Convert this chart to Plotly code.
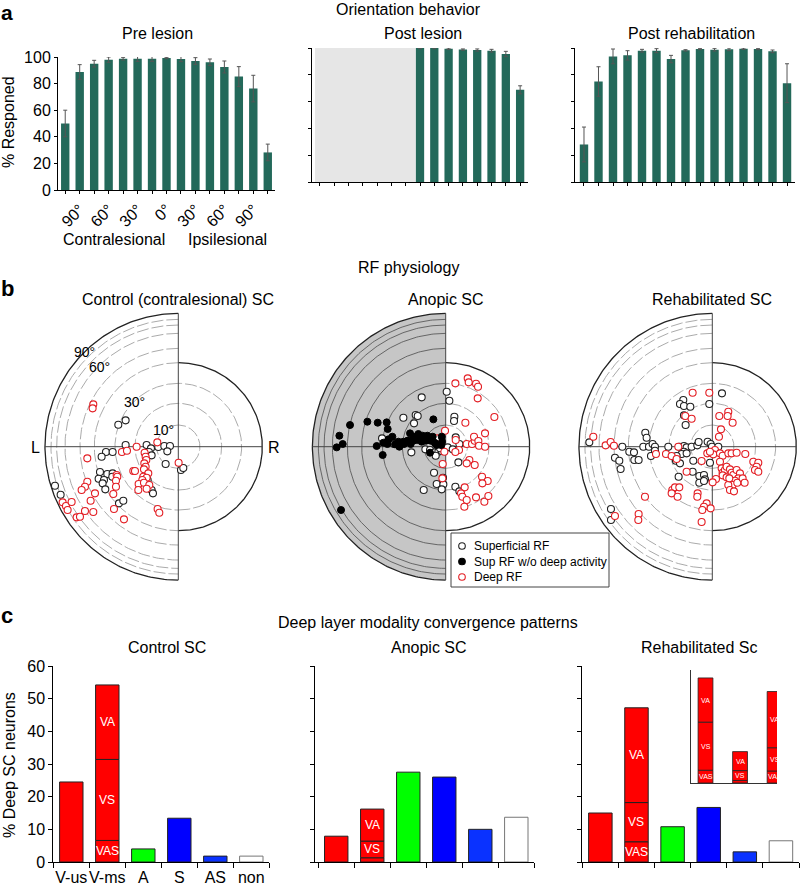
import numpy as np
import plotly.graph_objects as go

W, H = 800, 886
FONT = "Liberation Sans, Arial, sans-serif"

# ---------------- Panel a : orientation behaviour ----------------
POS_LABELS = ["", "90°", "", "60°", "", "30°", "", "0°", "", "30°", "", "60°", "", "90°", ""]
PRE_VALUES = [50, 88.75, 95, 98, 98.75, 98.75, 98.75, 99.25, 98.5, 97, 96, 92.5, 85.25, 76.25, 28.25]
PRE_ERR = [10, 5.5, 2.5, 2, 1, 2, 2, 0.5, 2, 2.5, 2.5, 4.5, 7.5, 10, 6.25]
POST_POSITIONS = [7, 8, 9, 10, 11, 12, 13, 14]
POST_VALUES = [100, 100, 99.5, 98.8, 98.5, 98, 95.5, 68.8]
POST_ERR = [0.5, 0.5, 0.5, 0.5, 0.8, 1, 2, 3]
REHAB_VALUES = [28, 75, 93.75, 94.5, 98, 98, 91.75, 98.25, 99.25, 98.75, 99, 99.5, 99.25, 97.5, 73.75]
REHAB_ERR = [13, 11, 5.5, 3.5, 1, 1.5, 2.75, 0.5, 0.5, 1, 1, 0.5, 0.5, 1, 14.5]

# ---------------- Panel b : RF physiology (x, y offsets in plot units; 90 deg ring = 400) ----------------
RING_DEG = [10, 20, 30, 40, 50, 60, 70, 80, 90]
RING_R = [65, 130, 190, 252, 295, 340, 365, 382, 400]
RING_LABELS = [("10°", -45, 50), ("30°", -130, 135), ("60°", -235, 240), ("90°", -280, 285)]

CTRL_SUP = [(-180, 66), (-158, 79), (-158, 5), (-95, 5), (-82, -5), (-60, -1), (-42, 2), (-25, 2), (-33, -14),
            (-88, -16), (-80, -26), (-217, -16), (-197, -16), (-230, -30), (-235, -76), (-213, -82), (-197, -80),
            (-239, -96), (-223, -100), (-227, -110), (-219, -128), (-198, -90), (-92, -100), (-80, -130),
            (-76, -140), (-178, -170), (-165, -162), (-370, -117), (-353, -144), (-38, -52), (8, -70), (15, -64)]
CTRL_DEEP = [(-255, 127), (-257, 115), (-125, 0), (-63, 13), (-169, -16), (-154, -12), (-101, -18), (-98, -30),
             (-96, -40), (-102, -50), (-98, -60), (-135, -73), (-130, -73), (-103, -68), (-90, -80), (-105, -90),
             (-95, -93), (-108, -100), (-119, -112), (-103, -108), (-87, -115), (-120, -130), (-95, -126),
             (-185, -85), (-183, -90), (-187, -102), (-273, -35), (-273, -105), (-280, -120), (-290, -130),
             (-250, -140), (-263, -162), (-195, -142), (-187, -120), (-193, -187), (-163, -218), (-62, -187),
             (-57, -198), (-347, -167), (-337, -178), (-320, -166), (-332, -190), (-280, -193), (-255, -196),
             (-305, -212), (-295, -210), (1, -48)]

ANOP_NODEEP = [(-319, 33), (-309, 8), (-327, -2), (-287, 65), (-235, 75), (-204, 72), (-177, 73), (-174, 53),
               (-187, 12), (-207, 2), (-189, -25), (-172, 22), (-160, 30), (-175, 8), (-142, 15), (-139, 0),
               (-125, 8), (-115, 18), (-107, 40), (-95, 30), (-82, 38), (-69, 33), (-55, 33), (-39, 30),
               (-109, 18), (-97, 18), (-85, 20), (-72, 15), (-59, 18), (-45, 18), (-33, 12), (-27, 5), (-12, 30),
               (-11, 15), (-14, 5), (-37, 82), (-105, 8), (-47, -18), (-314, -190), (-127, 15), (-152, 7)]
ANOP_SUP = [(-72, 148), (-127, 87), (-90, 95), (-84, 92), (-95, 70), (-191, 25), (-155, 8), (-103, -17),
            (-61, -8), (-47, -10), (-33, -17), (-22, -15), (-12, -13), (-30, -27), (3, 165), (11, 138), (26, 90),
            (25, 77), (30, 28), (41, 8), (6, -2), (21, -8), (38, -47), (-35, -78), (-8, -93), (-27, -112),
            (-7, -113), (-12, -128), (-66, -130), (29, -120), (41, -134), (-17, -5)]
ANOP_DEEP = [(29, 190), (66, 205), (69, 193), (91, 189), (97, 180), (96, 145), (146, 89), (59, 72), (-2, 48),
             (-27, 25), (30, 20), (63, 8), (79, 8), (87, 18), (85, 30), (98, 17), (100, 3), (118, 0), (118, 40),
             (40, -10), (29, -16), (-4, -15), (-9, -52), (71, -40), (63, -50), (87, -55), (109, -90),
             (126, -103), (110, -110), (-10, -95), (57, -122), (46, -140), (50, -150), (63, -160), (56, -180),
             (91, -152), (116, -165), (128, -148)]

REHAB_SUP = [(29, 160), (-87, 140), (-97, 128), (-85, 122), (-66, 120), (-9, 128), (-85, 94), (-80, 65),
             (-201, 42), (-197, 27), (-270, 0), (-249, -15), (-235, -17), (-234, -40), (-221, -40), (-292, -33),
             (-279, -42), (-275, -67), (-207, 0), (-190, 0), (-179, 8), (-172, 0), (-172, -12), (-184, -28),
             (-132, 0), (-99, 0), (-85, 2), (-77, -2), (-62, 0), (-45, 4), (-41, 14), (-14, 15), (-5, 8), (-1, 0),
             (-85, -15), (-92, -22), (-77, -20), (-107, -28), (-109, -42), (-97, -50), (-57, -42), (-7, -48),
             (-59, -75), (-39, -88), (-25, -85), (-22, -98), (-39, -108), (-25, -103), (-101, -90), (-304, -187),
             (-304, -220), (-369, 13), (18, 0)]
REHAB_DEEP = [(-357, 30), (-320, 4), (-305, 14), (-295, 3), (-169, -22), (-139, -22), (-122, -28), (-107, -37),
              (-102, 0), (-77, -75), (-81, 92), (-62, 84), (-59, 162), (-9, 162), (48, 105), (46, 92), (21, 92),
              (61, 72), (26, 52), (20, 30), (-32, -43), (-15, -20), (-2, -18), (8, -10), (3, -23), (-7, -15),
              (23, -20), (31, -27), (48, -20), (58, -20), (73, -18), (99, -22), (23, -45), (28, -65), (31, -78),
              (38, -70), (43, -60), (53, -68), (58, -78), (63, -85), (73, -70), (83, -80), (78, -95), (68, -102),
              (61, -115), (48, -115), (53, -130), (65, -134), (75, -108), (91, -95), (97, -108), (31, -86),
              (43, -92), (51, -95), (123, -45), (138, -48), (133, -60), (128, -70), (138, -75), (11, -97),
              (1, -107), (-120, -130), (-112, -122), (-99, -122), (-122, -140), (-104, -150), (-44, -140),
              (-45, -150), (-17, -170), (-25, -180), (-30, -190), (-5, -185), (-32, -226), (-202, -150),
              (-221, -202), (-222, -220), (-292, -208)]

LEGEND_LABELS = ["Superficial RF", "Sup RF w/o deep activity", "Deep RF"]

# ---------------- Panel c : deep layer modality convergence ----------------
C_CATS = ["V-us", "V-ms", "A", "S", "AS", "non"]
C_COLORS = ["#ff0000", "#ff0000", "#00ff00", "#0000ff", "#0a32ff", "#ffffff"]
CONTROL_VALS = [24.5, 54.2, 4.0, 13.4, 1.8, 1.8]
ANOPIC_VALS = [7.9, 16.2, 27.5, 26.0, 10.0, 13.7]
REHAB_C_VALS = [15.0, 47.2, 10.8, 16.7, 3.1, 6.5]
VMS_PARTS = ["VAS", "VS", "VA"]
CONTROL_VMS = [6.6, 24.8, 22.8]
ANOPIC_VMS = [1.3, 5.1, 9.8]
REHAB_VMS = [6.2, 12.0, 29.0]

RED = "#e31e24"
BAR_GREEN = "#23695a"

# ---------------- helpers ----------------
def dx(a, b):
    return [a / W, b / W]

def dy(top, bottom):
    return [1 - bottom / H, 1 - top / H]

annotations = []
shapes = []

def ann(text, x, y, size=16, **kw):
    d = dict(text=text, x=x / W, y=1 - y / H, xref="paper", yref="paper", showarrow=False,
             font=dict(family=FONT, size=size, color="black"), xanchor="center", yanchor="middle")
    d.update(kw)
    annotations.append(d)

fig = go.Figure()

def hidden(**kw):
    d = dict(showgrid=False, zeroline=False, showline=False, ticks="", showticklabels=False, fixedrange=True)
    d.update(kw)
    return d

layout_axes = {}

# ---------------- Panel a ----------------
a_specs = [
    ("x", "y", "xaxis", "yaxis", dx(58, 275), dy(57, 190), [-0.5, 14.5], True),
    ("x2", "y2", "xaxis2", "yaxis2", dx(312, 528), dy(48, 182), [-0.55, 14.55], False),
    ("x3", "y3", "xaxis3", "yaxis3", dx(575, 795), dy(48, 182), [-0.62, 14.55], False),
]
for xr, yr, xk, yk, xd, yd, rng, labels in a_specs:
    layout_axes[xk] = dict(domain=xd, range=rng, anchor=yr, showgrid=False, zeroline=False, showline=True,
                           linecolor="black", linewidth=1, ticks="outside", ticklen=3, tickcolor="black",
                           tickvals=list(range(15)), ticktext=POS_LABELS, showticklabels=labels,
                           tickangle=-45, tickfont=dict(family=FONT, size=16, color="black"), fixedrange=True)
    layout_axes[yk] = dict(domain=yd, range=[0, 100], anchor=xr, showgrid=False, zeroline=False, showline=True,
                           linecolor="black", linewidth=1, ticks="outside", ticklen=3, tickcolor="black",
                           tickvals=[0, 20, 40, 60, 80, 100], showticklabels=labels,
                           tickfont=dict(family=FONT, size=16, color="black"), fixedrange=True)

err_style = dict(type="data", color="#555555", thickness=1, width=2)
fig.add_trace(go.Bar(x=list(range(15)), y=PRE_VALUES, width=0.58, marker=dict(color=BAR_GREEN, line=dict(width=0)),
                     error_y=dict(array=PRE_ERR, **err_style), xaxis="x", yaxis="y", showlegend=False))
fig.add_trace(go.Bar(x=POST_POSITIONS, y=POST_VALUES, width=0.58, marker=dict(color=BAR_GREEN, line=dict(width=0)),
                     error_y=dict(array=POST_ERR, **err_style), xaxis="x2", yaxis="y2", showlegend=False))
fig.add_trace(go.Bar(x=list(range(15)), y=REHAB_VALUES, width=0.58, marker=dict(color=BAR_GREEN, line=dict(width=0)),
                     error_y=dict(array=REHAB_ERR, **err_style), xaxis="x3", yaxis="y3", showlegend=False))
shapes.append(dict(type="rect", xref="x2", yref="y2", x0=-0.34, x1=6.69, y0=0, y1=100,
                   fillcolor="#e6e6e6", line=dict(width=0), layer="below"))

ann("<b>a</b>", 7, 0, size=21, yanchor="top", borderpad=0)
ann("Orientation behavior", 408, 0, yanchor="top", borderpad=0)
ann("Pre lesion", 157, 33)
ann("Post lesion", 423, 33)
ann("Post rehabilitation", 691, 33)
ann("% Responed", 9, 122, textangle=-90)
ann("Contralesional", 114, 240)
ann("Ipsilesional", 228, 240)

# ---------------- Panel b ----------------
ann("RF physiology", 408, 268)
ann("<b>b</b>", 7, 289, size=22)
ann("Control (contralesional) SC", 178, 299)
ann("Anopic SC", 446, 299)
ann("Rehabilitated SC", 712, 299)
ann("L", 35, 447)
ann("R", 274, 447)

polar_specs = [
    ("x4", "y4", "xaxis4", "yaxis4", 178.3, False, True),
    ("x5", "y5", "xaxis5", "yaxis5", 445.7, True, False),
    ("x6", "y6", "xaxis6", "yaxis6", 712.3, False, False),
]
CY = 446.7
XMIN, XMAX, YMIN, YMAX = -420, 262, -420, 420
left_th = np.linspace(np.pi / 2, 3 * np.pi / 2, 181)
right_th = np.linspace(-np.pi / 2, np.pi / 2, 181)

for xr, yr, xk, yk, cx, shaded, ring_labels in polar_specs:
    layout_axes[xk] = hidden(domain=dx(cx + XMIN / 3, cx + XMAX / 3), range=[XMIN, XMAX], anchor=yr)
    layout_axes[yk] = hidden(domain=dy(CY - YMAX / 3, CY - YMIN / 3), range=[YMIN, YMAX], anchor=xr)
    outer = RING_R[-1]
    right_edge = RING_R[3]
    if shaded:
        fig.add_trace(go.Scatter(x=outer * np.cos(left_th), y=outer * np.sin(left_th), mode="lines",
                                 fill="toself", fillcolor="#c6c6c6", line=dict(width=0),
                                 xaxis=xr, yaxis=yr, showlegend=False, hoverinfo="skip"))
    left_col = "#5a5a5a" if shaded else "#a0a0a0"
    left_dash = "solid" if shaded else "12px,3px"
    for deg, r in zip(RING_DEG[:-1], RING_R[:-1]):
        fig.add_trace(go.Scatter(x=r * np.cos(left_th), y=r * np.sin(left_th), mode="lines",
                                 line=dict(color=left_col, width=0.9, dash=left_dash),
                                 xaxis=xr, yaxis=yr, showlegend=False, hoverinfo="skip"))
        if deg < RING_DEG[3]:
            fig.add_trace(go.Scatter(x=r * np.cos(right_th), y=r * np.sin(right_th), mode="lines",
                                     line=dict(color="#a0a0a0", width=0.9, dash="12px,3px"),
                                     xaxis=xr, yaxis=yr, showlegend=False, hoverinfo="skip"))
    fig.add_trace(go.Scatter(x=outer * np.cos(left_th), y=outer * np.sin(left_th), mode="lines",
                             line=dict(color="#222222", width=1.3),
                             xaxis=xr, yaxis=yr, showlegend=False, hoverinfo="skip"))
    fig.add_trace(go.Scatter(x=right_edge * np.cos(right_th), y=right_edge * np.sin(right_th), mode="lines",
                             line=dict(color="#222222", width=1.3),
                             xaxis=xr, yaxis=yr, showlegend=False, hoverinfo="skip"))
    fig.add_trace(go.Scatter(x=[-outer, right_edge], y=[0, 0], mode="lines", line=dict(color="#444444", width=1),
                             xaxis=xr, yaxis=yr, showlegend=False, hoverinfo="skip"))
    fig.add_trace(go.Scatter(x=[0, 0], y=[-outer, outer], mode="lines", line=dict(color="#444444", width=1),
                             xaxis=xr, yaxis=yr, showlegend=False, hoverinfo="skip"))
    if ring_labels:
        for txt, lx, ly in RING_LABELS:
            annotations.append(dict(text=txt, x=lx, y=ly, xref=xr, yref=yr, showarrow=False,
                                    font=dict(family=FONT, size=14, color="black")))

def add_points(pts, xr, yr, kind):
    xs = [p[0] for p in pts]
    ys = [p[1] for p in pts]
    if kind == "sup":
        marker = dict(symbol="circle", size=7, color="white", line=dict(color="#222222", width=1.1))
    elif kind == "nodeep":
        marker = dict(symbol="circle", size=7, color="black", line=dict(color="black", width=1))
    else:
        marker = dict(symbol="circle", size=7, color="white", line=dict(color=RED, width=1.1))
    fig.add_trace(go.Scatter(x=xs, y=ys, mode="markers", marker=marker, xaxis=xr, yaxis=yr,
                             showlegend=False, hoverinfo="skip"))

add_points(CTRL_SUP, "x4", "y4", "sup")
add_points(CTRL_DEEP, "x4", "y4", "deep")
add_points(ANOP_SUP, "x5", "y5", "sup")
add_points(ANOP_DEEP, "x5", "y5", "deep")
add_points(ANOP_NODEEP, "x5", "y5", "nodeep")
add_points(REHAB_SUP, "x6", "y6", "sup")
add_points(REHAB_DEEP, "x6", "y6", "deep")

# manual legend box
LG_X0, LG_X1, LG_Y0, LG_Y1 = 451, 609, 533, 587
shapes.append(dict(type="rect", xref="paper", yref="paper", x0=LG_X0 / W, x1=LG_X1 / W,
                   y0=1 - LG_Y1 / H, y1=1 - LG_Y0 / H, line=dict(color="#444444", width=1), fillcolor="white"))
leg_styles = [("white", "#222222"), ("black", "black"), ("white", RED)]
for i, (lab, (fillc, linec)) in enumerate(zip(LEGEND_LABELS, leg_styles)):
    cyy = 546 + i * 15.5
    r = 3.3
    shapes.append(dict(type="circle", xref="paper", yref="paper", x0=(462 - r) / W, x1=(462 + r) / W,
                       y0=1 - (cyy + r) / H, y1=1 - (cyy - r) / H, fillcolor=fillc, line=dict(color=linec, width=1.1)))
    ann(lab, 472, cyy, size=12, xanchor="left")

# ---------------- Panel c ----------------
ann("<b>c</b>", 7, 615, size=22)
ann("Deep layer modality convergence patterns", 428, 622)
ann("Control SC", 167, 647)
ann("Anopic SC", 429, 647)
ann("Rehabilitated Sc", 699, 647)
ann("% Deep SC neurons", 9, 765, textangle=-90)

c_specs = [
    ("x7", "y7", "xaxis7", "yaxis7", dx(53.3, 269.3), [-0.5, 5.5], True, CONTROL_VALS, CONTROL_VMS),
    ("x8", "y8", "xaxis8", "yaxis8", dx(315, 534.3), [-0.59, 5.5], False, ANOPIC_VALS, ANOPIC_VMS),
    ("x9", "y9", "xaxis9", "yaxis9", dx(582.3, 799), [-0.5, 5.5], False, REHAB_C_VALS, REHAB_VMS),
]
bounds = [i - 0.5 for i in range(7)]
for xr, yr, xk, yk, xd, rng, labels, vals, vms in c_specs:
    layout_axes[xk] = dict(domain=xd, range=rng, anchor=yr, showgrid=False, zeroline=False, showline=True,
                           linecolor="black", linewidth=1, tickvals=list(range(6)), ticktext=C_CATS,
                           ticks="outside", ticklen=1, tickcolor="rgba(0,0,0,0)", showticklabels=labels,
                           tickangle=0, tickfont=dict(family=FONT, size=16, color="black"), fixedrange=True,
                           minor=dict(tickmode="array", tickvals=bounds, ticks="outside", ticklen=5,
                                      tickcolor="black", tickwidth=1, showgrid=False))
    layout_axes[yk] = dict(domain=dy(666, 862), range=[0, 60], anchor=xr, showgrid=False, zeroline=False,
                           showline=True, linecolor="black", linewidth=1, ticks="outside", ticklen=4,
                           tickcolor="black", tickvals=list(range(0, 61, 10)), showticklabels=labels,
                           tickfont=dict(family=FONT, size=16, color="black"), fixedrange=True)
    single_idx = [0, 2, 3, 4, 5]
    fig.add_trace(go.Bar(x=single_idx, y=[vals[i] for i in single_idx], width=0.65,
                         marker=dict(color=[C_COLORS[i] for i in single_idx],
                                     line=dict(color=["#222222"] * 4 + ["#777777"], width=1)),
                         xaxis=xr, yaxis=yr, showlegend=False))
    base = 0.0
    for part, v in zip(VMS_PARTS, vms):
        fig.add_trace(go.Bar(x=[1], y=[v], base=[base], width=0.65,
                             marker=dict(color=C_COLORS[1], line=dict(color="#222222", width=1)),
                             xaxis=xr, yaxis=yr, showlegend=False))
        if v > 3:
            annotations.append(dict(text=part, x=1, y=base + v / 2, xref=xr, yref=yr, showarrow=False,
                                    font=dict(family=FONT, size=12, color="white")))
        base += v

# inset of V-ms composition across conditions
layout_axes["xaxis10"] = dict(domain=dx(691, 777), range=[-0.42, 2.07], anchor="y10", showgrid=False,
                              zeroline=False, showline=True, linecolor="#333333", linewidth=1, ticks="",
                              showticklabels=False, fixedrange=True)
layout_axes["yaxis10"] = dict(domain=dy(670, 783), range=[0, 58.3], anchor="x10", showgrid=False,
                              zeroline=False, showline=True, linecolor="#333333", linewidth=1, ticks="",
                              showticklabels=False, fixedrange=True)
inset_sets = [CONTROL_VMS, ANOPIC_VMS, REHAB_VMS]
bases = [0.0, 0.0, 0.0]
for k, part in enumerate(VMS_PARTS):
    vals_k = [s[k] for s in inset_sets]
    fig.add_trace(go.Bar(x=[0, 1, 2], y=vals_k, base=list(bases), width=0.43, cliponaxis=False,
                         marker=dict(color="#ff0000", line=dict(color="#222222", width=0.8)),
                         xaxis="x10", yaxis="y10", showlegend=False))
    for j, v in enumerate(vals_k):
        if v > 3:
            annotations.append(dict(text=part, x=j, y=bases[j] + v / 2, xref="x10", yref="y10",
                                    showarrow=False, font=dict(family=FONT, size=7, color="white")))
        bases[j] += v

fig.update_layout(
    width=W, height=H, margin=dict(l=0, r=0, t=0, b=0), template="none",
    paper_bgcolor="white", plot_bgcolor="rgba(0,0,0,0)", barmode="overlay",
    font=dict(family=FONT, size=16, color="black"),
    showlegend=False, annotations=annotations, shapes=shapes, **layout_axes,
)

fig.write_html("out.html", config={"displayModeBar": False},
               post_script="document.body.style.margin='0';document.body.style.padding='0';")
